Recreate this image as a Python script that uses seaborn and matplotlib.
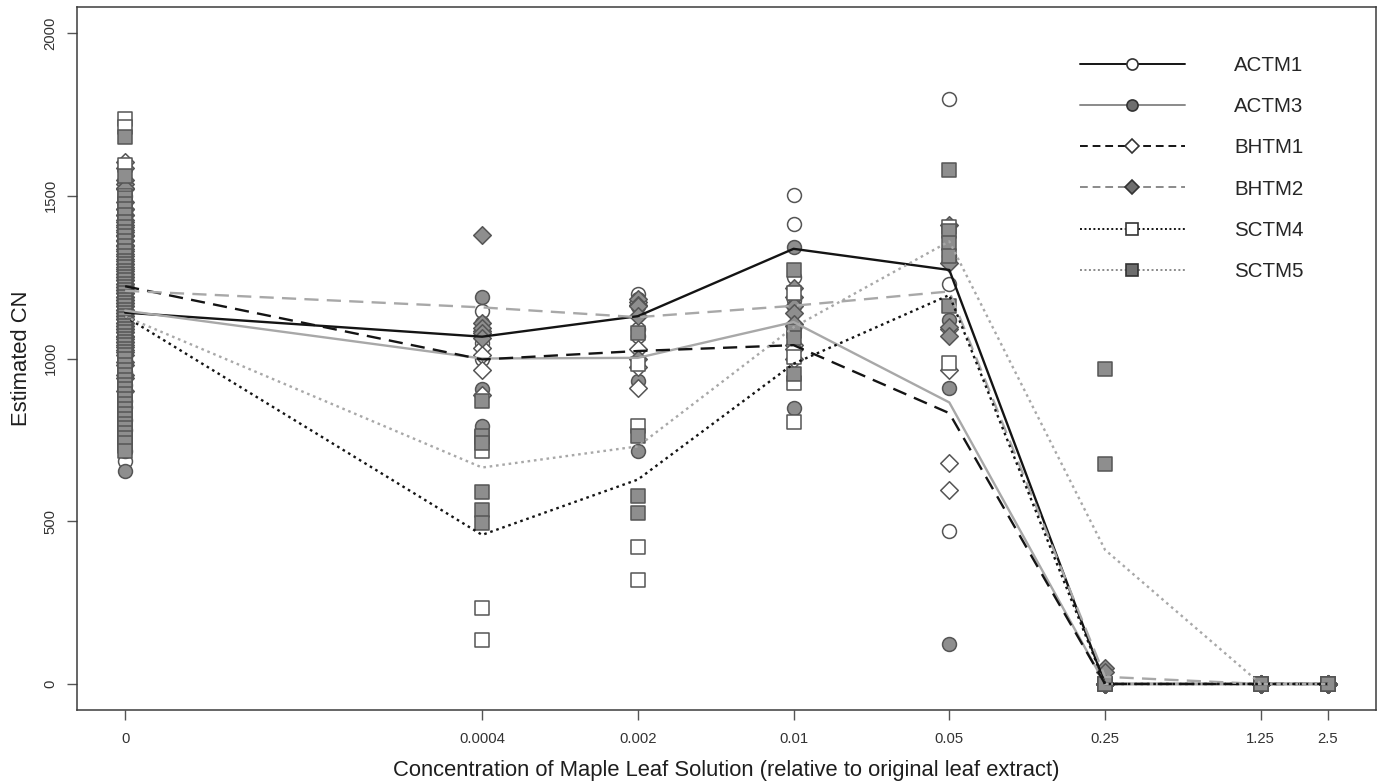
import numpy as np
import pandas as pd
import seaborn as sns
import matplotlib
matplotlib.use('Agg')
import matplotlib.pyplot as plt
from matplotlib.lines import Line2D
from matplotlib.ticker import NullLocator

# concentrations (relative to original leaf extract) and their tick labels
conc_levels = [0, 0.0004, 0.002, 0.01, 0.05, 0.25, 1.25, 2.5]
tick_labels = ['0', '0.0004', '0.002', '0.01', '0.05', '0.25', '1.25', '2.5']
strains = ['ACTM1', 'ACTM3', 'BHTM1', 'BHTM2', 'SCTM4', 'SCTM5']

# mean estimated CN per concentration (the connecting lines)
actm1_mean = [1141, 1067, 1130, 1337, 1272, 0, 0, 0]
actm3_mean = [1147, 1000, 1002, 1112, 865, 0, 0, 0]
bhtm1_mean = [1222, 997, 1023, 1041, 832, 0, 0, 0]
bhtm2_mean = [1208, 1157, 1127, 1162, 1206, 22, 0, 0]
sctm4_mean = [1129, 458, 628, 984, 1195, 0, 0, 0]
sctm5_mean = [1129, 665, 730, 1096, 1360, 412, 0, 0]

# individual replicate estimates, one list per concentration
actm1_pts = [
    [1500, 1480, 1450, 1420, 1400, 1380, 1350, 1335, 1320, 1290, 1275, 1260, 1245, 1230,
     1215, 1200, 1180, 1165, 1160, 1140, 1130, 1120, 1100, 1090, 1080, 1060, 1050, 1040,
     1030, 1020, 1000, 980, 950, 900, 850, 780, 686],
    [1146, 1075, 1048, 1000],
    [1197, 1160, 1090, 1070],
    [1502, 1414, 1250, 1180],
    [1797, 1300, 1228, 470],
    [0, 0, 0], [0, 0, 0], [0, 0, 0]]
actm3_pts = [
    [1450, 1430, 1410, 1390, 1370, 1340, 1325, 1310, 1280, 1265, 1250, 1235, 1220, 1205,
     1200, 1180, 1170, 1160, 1150, 1140, 1120, 1110, 1100, 1080, 1070, 1060, 1040, 1030,
     1020, 990, 960, 920, 870, 810, 715, 655],
    [1190, 1110, 905, 792],
    [1182, 1160, 930, 715],
    [1343, 1160, 1095, 849],
    [1316, 1118, 909, 123],
    [0, 0, 0], [0, 0, 0], [0, 0, 0]]
bhtm1_pts = [
    [1603, 1585, 1520, 1460, 1440, 1420, 1405, 1390, 1375, 1360, 1345, 1330, 1315, 1300,
     1290, 1280, 1270, 1260, 1250, 1240, 1230, 1220, 1210, 1200, 1190, 1180, 1170, 1160,
     1150, 1140, 1130, 1120, 1110, 1100, 1090, 1080, 1065, 1050, 1035, 1020, 990, 950, 900],
    [1085, 1033, 1012, 966, 889],
    [1175, 1028, 975, 910],
    [1100, 1040, 1030, 997],
    [1090, 964, 678, 596],
    [0, 0, 0], [0, 0, 0], [0, 0, 0]]
bhtm2_pts = [
    [1548, 1536, 1524, 1480, 1460, 1440, 1425, 1410, 1395, 1380, 1365, 1350, 1335, 1320,
     1305, 1290, 1275, 1260, 1250, 1240, 1230, 1220, 1210, 1200, 1190, 1180, 1170, 1160,
     1150, 1140, 1130, 1120, 1110, 1100, 1090, 1080, 1070, 1060, 1050, 1040, 1025, 1010,
     980, 940],
    [1380, 1110, 1095, 1079, 1064],
    [1182, 1165, 1160, 1130, 997],
    [1217, 1189, 1162, 1140, 1107],
    [1409, 1294, 1096, 1068],
    [49, 38, 0, 0], [0, 0, 0], [0, 0, 0]]
sctm4_pts = [
    [1737, 1712, 1595, 1500, 1440, 1410, 1380, 1350, 1320, 1295, 1270, 1250, 1230, 1215,
     1200, 1185, 1170, 1155, 1140, 1125, 1110, 1095, 1080, 1065, 1050, 1035, 1020, 990,
     960, 930, 900, 870, 840, 800, 760, 730],
    [760, 715, 233, 135],
    [982, 792, 422, 320],
    [1200, 1005, 926, 805],
    [1404, 986],
    [0, 0, 0], [0, 0, 0], [0, 0, 0]]
sctm5_pts = [
    [1682, 1560, 1494, 1475, 1460, 1440, 1420, 1405, 1390, 1375, 1360, 1345, 1330, 1315,
     1300, 1290, 1280, 1270, 1260, 1250, 1240, 1230, 1220, 1210, 1200, 1190, 1180, 1170,
     1160, 1150, 1140, 1130, 1120, 1110, 1100, 1090, 1080, 1070, 1060, 1050, 1040, 1030,
     1020, 1010, 1000, 980, 965, 950, 935, 920, 905, 890, 875, 860, 845, 830, 815, 800,
     785, 770, 755, 740, 715],
    [868, 761, 741, 590, 535, 494],
    [1079, 761, 576, 525],
    [1272, 1085, 1063, 953],
    [1579, 1393, 1354, 1316, 1162],
    [968, 677, 0, 0], [0, 0, 0], [0, 0, 0]]

means = [actm1_mean, actm3_mean, bhtm1_mean, bhtm2_mean, sctm4_mean, sctm5_mean]
points = [actm1_pts, actm3_pts, bhtm1_pts, bhtm2_pts, sctm4_pts, sctm5_pts]

# the control (0) sits at 1e-5 on the log axis
ZERO_AT = 1e-5

def xpos(c):
    return ZERO_AT if c == 0 else c

rows = []
for s, reps in zip(strains, points):
    for c, vals in zip(conc_levels, reps):
        for v in vals:
            rows.append((s, xpos(c), v))
pts = pd.DataFrame(rows, columns=['strain', 'x', 'cn'])

rows = []
for s, m in zip(strains, means):
    for c, v in zip(conc_levels, m):
        rows.append((s, xpos(c), v))
mean_df = pd.DataFrame(rows, columns=['strain', 'x', 'cn'])

# styles
BLACK = '#141414'
LGRAY = '#a8a8a8'
FILL = '#8e8e8e'
line_colors = {'ACTM1': BLACK, 'ACTM3': LGRAY, 'BHTM1': BLACK,
               'BHTM2': LGRAY, 'SCTM4': BLACK, 'SCTM5': LGRAY}
dash_map = {'ACTM1': '', 'ACTM3': '', 'BHTM1': (6, 3.5), 'BHTM2': (6, 3.5),
            'SCTM4': (1.1, 1.6), 'SCTM5': (1.1, 1.6)}
marker_map = {'ACTM1': 'o', 'ACTM3': 'o', 'BHTM1': 'D', 'BHTM2': 'D',
              'SCTM4': 's', 'SCTM5': 's'}
face_map = {'ACTM1': 'white', 'ACTM3': FILL, 'BHTM1': 'white', 'BHTM2': FILL,
            'SCTM4': 'white', 'SCTM5': FILL}
size_map = {'o': 100, 'D': 80, 's': 100}

sns.set_style('white')
plt.rcParams['font.family'] = ['Liberation Sans', 'DejaVu Sans']

fig = plt.figure(figsize=(13.81, 7.84), dpi=100)
ax = fig.add_axes([77 / 1381, 1 - 710 / 784, 1299 / 1381, 703 / 784])

for s in strains:
    mk = marker_map[s]
    sns.scatterplot(data=pts[pts['strain'] == s], x='x', y='cn', marker=mk,
                    color=face_map[s], edgecolor='#555555', linewidth=1.1,
                    s=size_map[mk], legend=False, ax=ax, zorder=2)

sns.lineplot(data=mean_df, x='x', y='cn', hue='strain', style='strain',
             hue_order=strains, style_order=strains, palette=line_colors,
             dashes=dash_map, linewidth=1.7, legend=False, ax=ax, zorder=3)

ax.set_xscale('log')
ax.set_xlim(10 ** -5.216, 10 ** 0.614)
ax.set_ylim(-80, 2080)
ax.set_xticks([xpos(c) for c in conc_levels])
ax.set_xticklabels(tick_labels)
ax.xaxis.set_minor_locator(NullLocator())
ax.set_yticks([0, 500, 1000, 1500, 2000])

ax.tick_params(direction='out', length=7, width=1, color='#555555',
               labelsize=10.7, labelcolor='#333333', left=True, bottom=True)
ax.tick_params(axis='x', pad=9)
ax.tick_params(axis='y', labelrotation=90, pad=7)
for lbl in ax.get_yticklabels():
    lbl.set_va('center')

for sp in ax.spines.values():
    sp.set_color('#3c3c3c')
    sp.set_linewidth(1.1)

ax.set_xlabel('Concentration of Maple Leaf Solution (relative to original leaf extract)',
              fontsize=15.8, color='#1e1e1e', labelpad=10)
ax.set_ylabel('Estimated CN', fontsize=15.8, color='#1e1e1e', labelpad=8)

# legend
leg_dash = {'': '-', (6, 3.5): (0, (4, 2.5)), (1.1, 1.6): (0, (1, 1.3))}
handles = []
for s in strains:
    handles.append(Line2D([0], [0], color=line_colors[s] if line_colors[s] == BLACK else '#8a8a8a',
                          lw=1.4, linestyle=leg_dash[dash_map[s]],
                          marker=marker_map[s], markersize=8 if marker_map[s] != 'D' else 7,
                          markerfacecolor=face_map[s] if face_map[s] == 'white' else '#6e6e6e',
                          markeredgecolor='#333333', markeredgewidth=1.2))
ax.legend(handles, strains, loc='upper left', bbox_to_anchor=(1080 / 1381, 1 - 56 / 784),
          bbox_transform=fig.transFigure, frameon=False, fontsize=14.8,
          handlelength=5.1, handletextpad=2.4, labelspacing=1.08,
          borderpad=0, borderaxespad=0)

fig.savefig('out.png', dpi=100)
